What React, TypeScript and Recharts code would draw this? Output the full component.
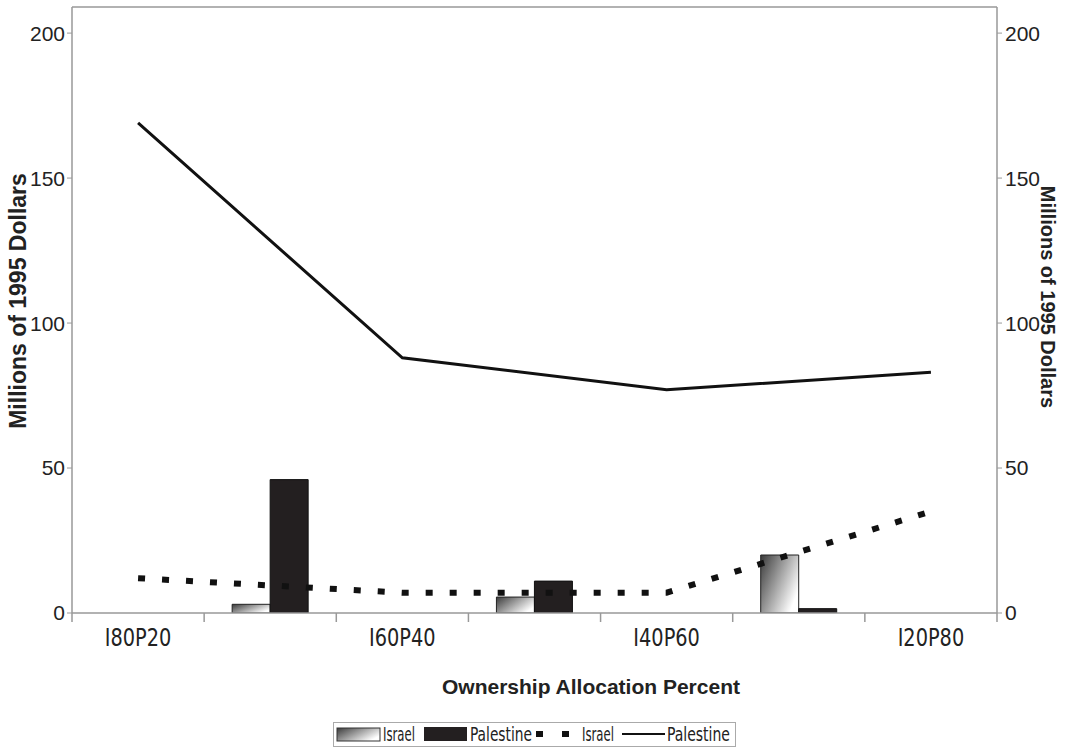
import React from 'react';
import { ComposedChart, Bar, Line, XAxis, YAxis, ReferenceLine, Label } from 'recharts';

const categories = ['I80P20', 'I60P40', 'I40P60', 'I20P80'];
const israelLine = [12, 7, 7, 35];
const palestineLine = [169, 88, 77, 83];
// bars sit halfway between the category points
const israelBars = [3, 5.5, 20];
const palestineBars = [46, 11, 1.5];
const yTicks = [0, 50, 100, 150, 200];

const data = [
  ...categories.map((c, i) => ({ x: i, name: c, israelLine: israelLine[i], palestineLine: palestineLine[i] })),
  ...israelBars.map((v, i) => ({ x: i + 0.5, israelBar: v, palestineBar: palestineBars[i] })),
].sort((a, b) => a.x - b.x);

const xTicks = [-0.25, 0, 0.25, 0.75, 1, 1.25, 1.75, 2, 2.25, 2.75, 3, 3.25];

const narrow = '"Liberation Sans Narrow", "Arial Narrow", "DejaVu Sans Condensed", sans-serif';
const sans = '"Liberation Sans", Arial, sans-serif';

const XTick = ({ x, y, payload }: any) => {
  const v = payload.value;
  if (Number.isInteger(v)) {
    return (
      <text
        transform={`translate(${x} ${y + 33}) scale(0.86 1)`}
        textAnchor="middle"
        fontFamily={narrow}
        fontSize={25}
        fill="#222"
      >
        {categories[v]}
      </text>
    );
  }
  return <line x1={x} x2={x} y1={y} y2={y + 9} stroke="#999" strokeWidth={1.5} />;
};

const AxisTitle = ({ x, y, angle, text, size }: any) => (
  <text
    x={x}
    y={y}
    transform={`rotate(${angle} ${x} ${y})`}
    textAnchor="middle"
    dominantBaseline="central"
    fontFamily={sans}
    fontWeight="bold"
    fontSize={size}
    fill="#222"
  >
    {text}
  </text>
);

const LegendText = ({ x, w, children }: any) => (
  <text x={x} y={19} fontFamily={narrow} fontSize={19} fill="#222" textLength={w} lengthAdjust="spacingAndGlyphs">
    {children}
  </text>
);

export default function App() {
  return (
    <div style={{ position: 'absolute', left: 0, top: 0, width: 1066, height: 756, background: '#fff' }}>
      <ComposedChart
        width={1066}
        height={756}
        data={data}
        barGap={0}
        margin={{ top: 7, right: 9, bottom: 103, left: 12 }}
      >
        <defs>
          <linearGradient id="israelGrad" x1="0" y1="0" x2="1" y2="0.6">
            <stop offset="0%" stopColor="#3a3a3a" />
            <stop offset="100%" stopColor="#ffffff" />
          </linearGradient>
        </defs>
        <XAxis
          dataKey="x"
          type="number"
          domain={[-0.25, 3.25]}
          ticks={xTicks}
          interval={0}
          height={40}
          tickLine={false}
          tickSize={0}
          tickMargin={0}
          tick={<XTick />}
          axisLine={{ stroke: '#999', strokeWidth: 1.5 }}
        >
          <Label content={() => <AxisTitle x={591} y={686} angle={0} size={21} text="Ownership Allocation Percent" />} />
        </XAxis>
        <YAxis
          yAxisId="left"
          width={60}
          domain={[0, 209]}
          ticks={yTicks}
          allowDataOverflow
          tickSize={5}
          tickMargin={2}
          tick={{ fontFamily: sans, fontSize: 21, fill: '#222' }}
          tickLine={{ stroke: '#999' }}
          axisLine={{ stroke: '#999', strokeWidth: 1.5 }}
        >
          <Label content={() => <AxisTitle x={18} y={301} angle={-90} size={23} text="Millions of 1995 Dollars" />} />
        </YAxis>
        <YAxis
          yAxisId="right"
          orientation="right"
          width={60}
          domain={[0, 209]}
          ticks={yTicks}
          allowDataOverflow
          tickSize={5}
          tickMargin={3}
          tick={{ fontFamily: sans, fontSize: 21, fill: '#222' }}
          tickLine={{ stroke: '#999' }}
          axisLine={{ stroke: '#999', strokeWidth: 1.5 }}
        >
          <Label content={() => <AxisTitle x={1048} y={297} angle={90} size={20} text="Millions of 1995 Dollars" />} />
        </YAxis>
        <ReferenceLine yAxisId="left" y={209} stroke="#999" strokeWidth={1.5} />
        <Bar yAxisId="left" dataKey="israelBar" barSize={38} fill="url(#israelGrad)" stroke="#222" strokeWidth={1} isAnimationActive={false} />
        <Bar yAxisId="left" dataKey="palestineBar" barSize={38} fill="#231f20" stroke="#111" strokeWidth={1} isAnimationActive={false} />
        <Line
          yAxisId="left"
          dataKey="israelLine"
          stroke="#111"
          strokeWidth={6}
          strokeDasharray="7 17"
          dot={false}
          connectNulls
          isAnimationActive={false}
        />
        <Line
          yAxisId="left"
          dataKey="palestineLine"
          stroke="#111"
          strokeWidth={3}
          dot={false}
          connectNulls
          isAnimationActive={false}
        />
      </ComposedChart>

      {/* legend box under the plot */}
      <svg width={440} height={30} style={{ position: 'absolute', left: 333, top: 722, overflow: 'visible' }}>
        <defs>
          <linearGradient id="legendGrad" x1="0" y1="0" x2="1" y2="0.6">
            <stop offset="0%" stopColor="#3a3a3a" />
            <stop offset="100%" stopColor="#ffffff" />
          </linearGradient>
        </defs>
        <rect x={0.5} y={0.5} width={402} height={24} fill="#fff" stroke="#aaa" />
        <rect x={4} y={6} width={43} height={13} fill="url(#legendGrad)" stroke="#333" />
        <LegendText x={50} w={32}>Israel</LegendText>
        <rect x={91} y={5} width={43} height={14} fill="#231f20" />
        <LegendText x={137} w={62}>Palestine</LegendText>
        <line x1={203} x2={237} y1={12} y2={12} stroke="#111" strokeWidth={6} strokeDasharray="7 19" />
        <LegendText x={249} w={32}>Israel</LegendText>
        <line x1={289} x2={332} y1={12} y2={12} stroke="#111" strokeWidth={2} />
        <LegendText x={334} w={63}>Palestine</LegendText>
      </svg>
    </div>
  );
}
